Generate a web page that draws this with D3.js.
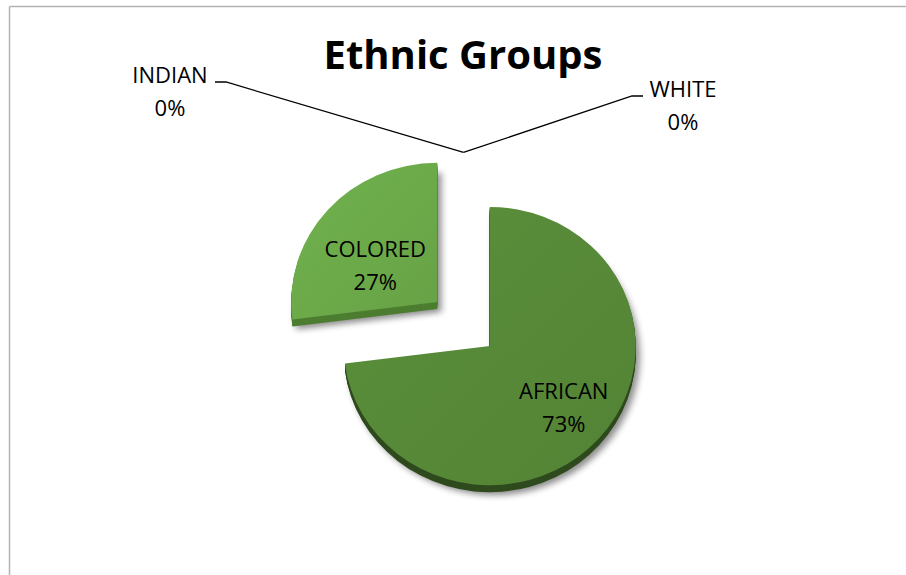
<!DOCTYPE html>
<html>
<head>
<meta charset="utf-8">
<script src="https://cdn.jsdelivr.net/npm/d3@7"></script>
<style>
  html, body { margin: 0; padding: 0; background: #fff; }
  svg { display: block; }
  text { font-family: "Open Sans", "Liberation Sans", sans-serif; fill: #000; }
</style>
</head>
<body>
<svg id="chart" width="906" height="575"></svg>
<script>
// Population share by ethnic group (percent)
const categories = ["AFRICAN", "COLORED", "INDIAN", "WHITE"];
const values = [73, 27, 0, 0];
const title = "Ethnic Groups";

const faceColors = { AFRICAN: "#558737", COLORED: "#6aa748" };
const sideColors = { AFRICAN: "#2f4b1e", COLORED: "#4d7d30" };

const W = 906, H = 575;
const svg = d3.select("#chart");

// frame lines (top and left)
svg.append("line").attr("x1", 9.5).attr("y1", 6.5).attr("x2", W).attr("y2", 6.5)
  .attr("stroke", "#b3b3b3").attr("stroke-width", 1.5);
svg.append("line").attr("x1", 9.5).attr("y1", 6.5).attr("x2", 9.5).attr("y2", H)
  .attr("stroke", "#b3b3b3").attr("stroke-width", 1.5);

// title
svg.append("text").attr("x", 463).attr("y", 69).attr("text-anchor", "middle")
  .style("font-weight", "700").style("font-size", "40px").text(title);

// pie geometry: slightly flattened ellipse, both slices pulled out from the centre
const cx = 463.5, cy = 324;
const R = 146, squash = 0.953, explode = 35, depth = 7;

const data = categories.map((c, i) => ({ category: c, value: values[i] }));
const pie = d3.pie().value(d => d.value).sort(null).startAngle(0).endAngle(2 * Math.PI);
const arcs = pie(data);
const arc = d3.arc().innerRadius(0).outerRadius(R);

const defs = svg.append("defs");
const blur = defs.append("filter").attr("id", "shadowBlur")
  .attr("x", "-20%").attr("y", "-20%").attr("width", "140%").attr("height", "140%");
blur.append("feGaussianBlur").attr("stdDeviation", 3.5);

Object.keys(faceColors).forEach(k => {
  const g = defs.append("linearGradient").attr("id", "grad-" + k)
    .attr("x1", "0").attr("y1", "0").attr("x2", "1").attr("y2", "1");
  const base = d3.color(faceColors[k]);
  g.append("stop").attr("offset", "0%").attr("stop-color", base.brighter(0.18));
  g.append("stop").attr("offset", "100%").attr("stop-color", base.darker(0.08));
});

function sliceOffset(d) {
  const mid = (d.startAngle + d.endAngle) / 2;
  return [Math.sin(mid) * explode, -Math.cos(mid) * explode * squash];
}

const visible = arcs.filter(d => d.value > 0);

// drop shadows
visible.forEach(d => {
  const [ox, oy] = sliceOffset(d);
  svg.append("g")
    .attr("transform", `translate(${cx + ox + 4},${cy + oy + depth + 3}) scale(1,${squash})`)
    .append("path").attr("d", arc(d))
    .attr("fill", "#000").attr("opacity", 0.45).attr("filter", "url(#shadowBlur)");
});

// extruded sides then top faces
visible.forEach(d => {
  const [ox, oy] = sliceOffset(d);
  for (let k = depth; k >= 1; k--) {
    svg.append("g")
      .attr("transform", `translate(${cx + ox},${cy + oy + k}) scale(1,${squash})`)
      .append("path").attr("d", arc(d)).attr("fill", sideColors[d.data.category]);
  }
});
visible.forEach(d => {
  const [ox, oy] = sliceOffset(d);
  svg.append("g")
    .attr("transform", `translate(${cx + ox},${cy + oy}) scale(1,${squash})`)
    .append("path").attr("d", arc(d)).attr("fill", `url(#grad-${d.data.category})`);
});

// in-slice labels: position relative to each slice's apex
const labelShift = { AFRICAN: [74, 68], COLORED: [-62, -30] };
visible.forEach(d => {
  const [ox, oy] = sliceOffset(d);
  const [dx, dy] = labelShift[d.data.category];
  const x = cx + ox + dx, y = cy + oy + dy;
  const t = svg.append("text").attr("text-anchor", "middle").style("font-size", "22px");
  t.append("tspan").attr("x", x).attr("y", y - 15).text(d.data.category);
  t.append("tspan").attr("x", x).attr("y", y + 18).text(Math.round(d.value) + "%");
});

// zero-value slices: labels outside with leader lines meeting at the top of the pie
const leadR = 180;
const outside = {
  INDIAN: { label: [170, 83], elbow: [226, 82], end: [215, 82] },
  WHITE:  { label: [683, 97], elbow: [632, 96], end: [643, 96] }
};
arcs.filter(d => d.value === 0).forEach(d => {
  const a = d.startAngle;
  const px = cx + Math.sin(a) * leadR, py = cy - Math.cos(a) * leadR * squash;
  const o = outside[d.data.category];
  svg.append("path")
    .attr("d", d3.line()([[px, py], o.elbow, o.end]))
    .attr("fill", "none").attr("stroke", "#000").attr("stroke-width", 1.3);
  const t = svg.append("text").attr("text-anchor", "middle").style("font-size", "22px");
  t.append("tspan").attr("x", o.label[0]).attr("y", o.label[1]).text(d.data.category);
  t.append("tspan").attr("x", o.label[0]).attr("y", o.label[1] + 33).text(Math.round(d.value) + "%");
});
</script>
</body>
</html>
